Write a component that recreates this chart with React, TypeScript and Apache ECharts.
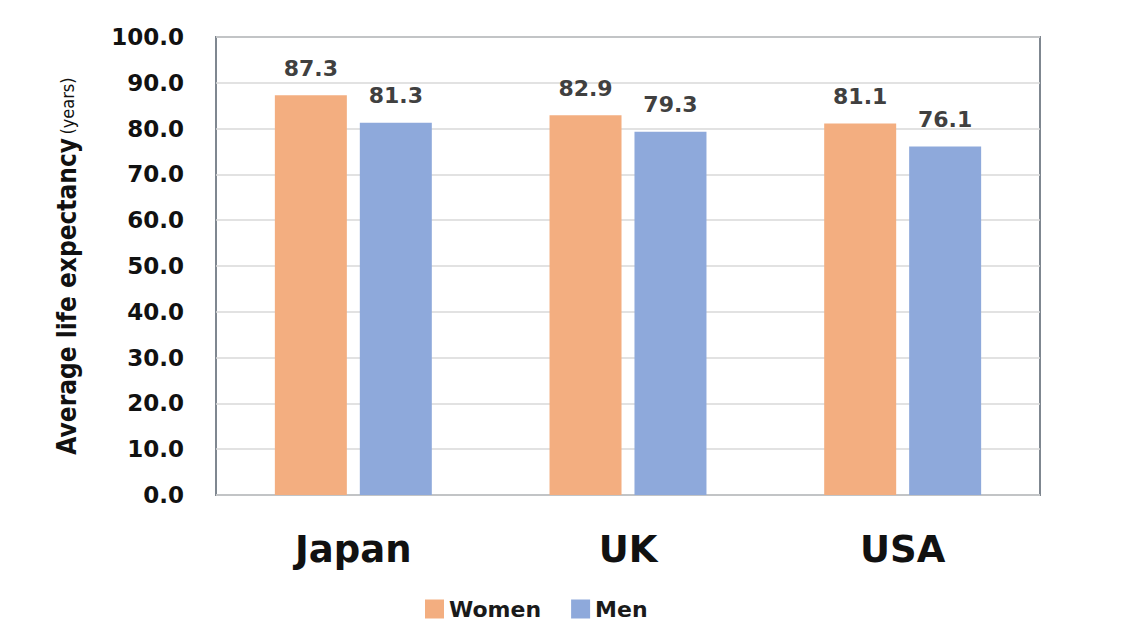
import React, { useEffect, useRef } from "react";
import * as echarts from "echarts";

const categories = ["Japan", "UK", "USA"];
const women = [87.3, 82.9, 81.1];
const men = [81.3, 79.3, 76.1];
const seriesNames = ["Women", "Men"];
const yTicks = { min: 0, max: 100, interval: 10 };

export default function App() {
  const ref = useRef<HTMLDivElement>(null);
  useEffect(() => {
    if (!ref.current) return;
    const chart = echarts.init(ref.current, null, { renderer: "svg" });
    const labelStyle = {
      show: true,
      position: "top" as const,
      distance: 16,
      fontFamily: "DejaVu Sans",
      fontWeight: "bold" as const,
      fontSize: 22,
      color: "#404040",
      formatter: (p: any) => Number(p.value).toFixed(1),
    };
    chart.setOption({
      animation: false,
      backgroundColor: "#ffffff",
      grid: { left: 208, right: 92, top: 29, bottom: 138, containLabel: false, show: true, borderColor: "#7f8790", borderWidth: 2 },
      legend: {
        data: seriesNames,
        top: 585,
        left: 412,
        itemWidth: 19,
        itemHeight: 19,
        itemGap: 30,
        icon: "rect",
        textStyle: { fontFamily: "DejaVu Sans", fontWeight: "bold", fontSize: 22, color: "#1a1a1a" },
      },
      xAxis: {
        type: "category",
        data: categories,
        axisLine: { show: false },
        axisTick: { show: false },
        axisLabel: { margin: 36, fontFamily: "DejaVu Sans", fontWeight: "bold", fontSize: 37, color: "#111111" },
      },
      yAxis: {
        type: "value",
        min: yTicks.min,
        max: yTicks.max,
        interval: yTicks.interval,
        name: "{a|Average life expectancy} {b|(years)}",
        nameLocation: "middle",
        nameRotate: 90,
        nameGap: 136,
        nameTextStyle: {
          rich: {
            a: { fontFamily: "DejaVu Sans Condensed", fontWeight: "bold", fontSize: 26, color: "#111111" },
            b: { fontFamily: "DejaVu Sans Condensed", fontSize: 18, color: "#111111" },
          },
        },
        axisLine: { show: false },
        axisTick: { show: false },
        splitLine: { lineStyle: { color: "#d9d9d9", width: 1.5 } },
        axisLabel: {
          margin: 32,
          fontFamily: "DejaVu Sans",
          fontWeight: "bold",
          fontSize: 23,
          color: "#111111",
          formatter: (v: number) => v.toFixed(1),
        },
      },
      series: [
        {
          name: seriesNames[0],
          type: "bar",
          data: women,
          barWidth: 72,
          barGap: "18%",
          itemStyle: { color: "#F3AE80" },
          label: labelStyle,
        },
        {
          name: seriesNames[1],
          type: "bar",
          data: men,
          barWidth: 72,
          itemStyle: { color: "#8EA9DB" },
          label: labelStyle,
        },
      ],
    });
    return () => chart.dispose();
  }, []);
  return <div ref={ref} style={{ width: 1124, height: 625 }} />;
}
